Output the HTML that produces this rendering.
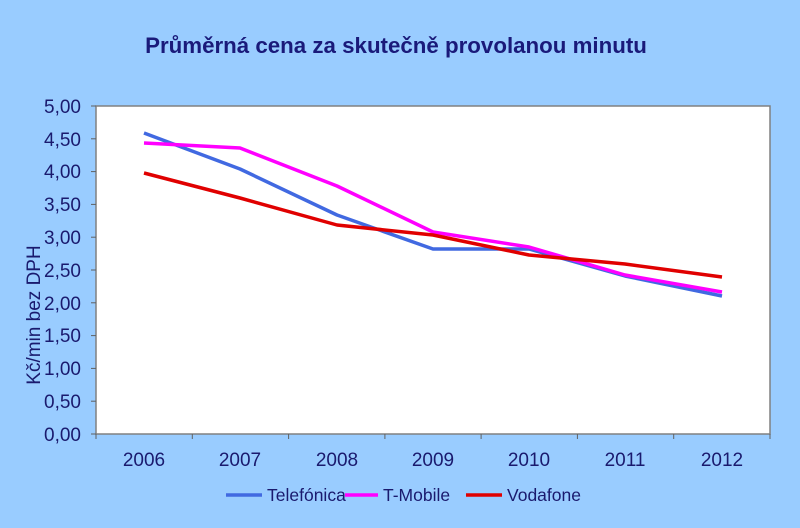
<!DOCTYPE html>
<html><head><meta charset="utf-8"><style>
html,body{margin:0;padding:0;background:#99CCFF;}
svg{display:block;font-family:"Liberation Sans",Arial,sans-serif;}
</style></head><body>
<svg width="800" height="528" xmlns="http://www.w3.org/2000/svg">
<rect width="800" height="528" fill="#99CCFF"/>
<text x="396" y="53" text-anchor="middle" font-size="22.3" font-weight="bold" fill="#1a1a7a">Průměrná cena za skutečně provolanou minutu</text>
<rect x="96" y="106" width="674" height="328" fill="#fff" stroke="#808080" stroke-width="1.5"/>
<g stroke="#606060" stroke-width="1">
<line x1="91" y1="106" x2="96" y2="106"/><line x1="91" y1="138.8" x2="96" y2="138.8"/><line x1="91" y1="171.6" x2="96" y2="171.6"/><line x1="91" y1="204.4" x2="96" y2="204.4"/><line x1="91" y1="237.2" x2="96" y2="237.2"/><line x1="91" y1="270" x2="96" y2="270"/><line x1="91" y1="302.8" x2="96" y2="302.8"/><line x1="91" y1="335.6" x2="96" y2="335.6"/><line x1="91" y1="368.4" x2="96" y2="368.4"/><line x1="91" y1="401.2" x2="96" y2="401.2"/><line x1="91" y1="434" x2="96" y2="434"/>
<line x1="96" y1="434" x2="96" y2="439"/><line x1="192.3" y1="434" x2="192.3" y2="439"/><line x1="288.6" y1="434" x2="288.6" y2="439"/><line x1="384.9" y1="434" x2="384.9" y2="439"/><line x1="481.1" y1="434" x2="481.1" y2="439"/><line x1="577.4" y1="434" x2="577.4" y2="439"/><line x1="673.7" y1="434" x2="673.7" y2="439"/><line x1="770" y1="434" x2="770" y2="439"/>
</g>
<g font-size="19" fill="#1a1a6e" text-anchor="end">
<text x="81" y="113">5,00</text><text x="81" y="146">4,50</text><text x="81" y="178">4,00</text><text x="81" y="211">3,50</text><text x="81" y="244">3,00</text><text x="81" y="277">2,50</text><text x="81" y="310">2,00</text><text x="81" y="342">1,50</text><text x="81" y="375">1,00</text><text x="81" y="408">0,50</text><text x="81" y="441">0,00</text>
</g>
<g font-size="19" fill="#1a1a6e" text-anchor="middle">
<text x="144" y="466">2006</text><text x="240" y="466">2007</text><text x="337" y="466">2008</text><text x="433" y="466">2009</text><text x="529" y="466">2010</text><text x="625" y="466">2011</text><text x="722" y="466">2012</text>
</g>
<text transform="translate(40,315) rotate(-90)" text-anchor="middle" font-size="19" fill="#1a1a6e">Kč/min bez DPH</text>
<g fill="none" stroke-width="3.5" stroke-linejoin="round">
<polyline stroke="#4169E1" points="144,133 240,169 337,215 433,249 529,249 625,276 722,296"/>
<polyline stroke="#FF00FF" points="144,143 240,148 337,186 433,232 529,247 625,275 722,292"/>
<polyline stroke="#E00000" points="144,173 240,198 337,225 433,235 529,255 625,264 722,277"/>
</g>
<g font-size="17.5" fill="#1a1a6e">
<line x1="226" y1="495" x2="262" y2="495" stroke="#4169E1" stroke-width="3.5"/><text x="267" y="501">Telefónica</text>
<line x1="345" y1="495" x2="378" y2="495" stroke="#FF00FF" stroke-width="3.5"/><text x="383" y="501">T-Mobile</text>
<line x1="466" y1="495" x2="502" y2="495" stroke="#E00000" stroke-width="3.5"/><text x="507" y="501">Vodafone</text>
</g>
</svg>
</body></html>
